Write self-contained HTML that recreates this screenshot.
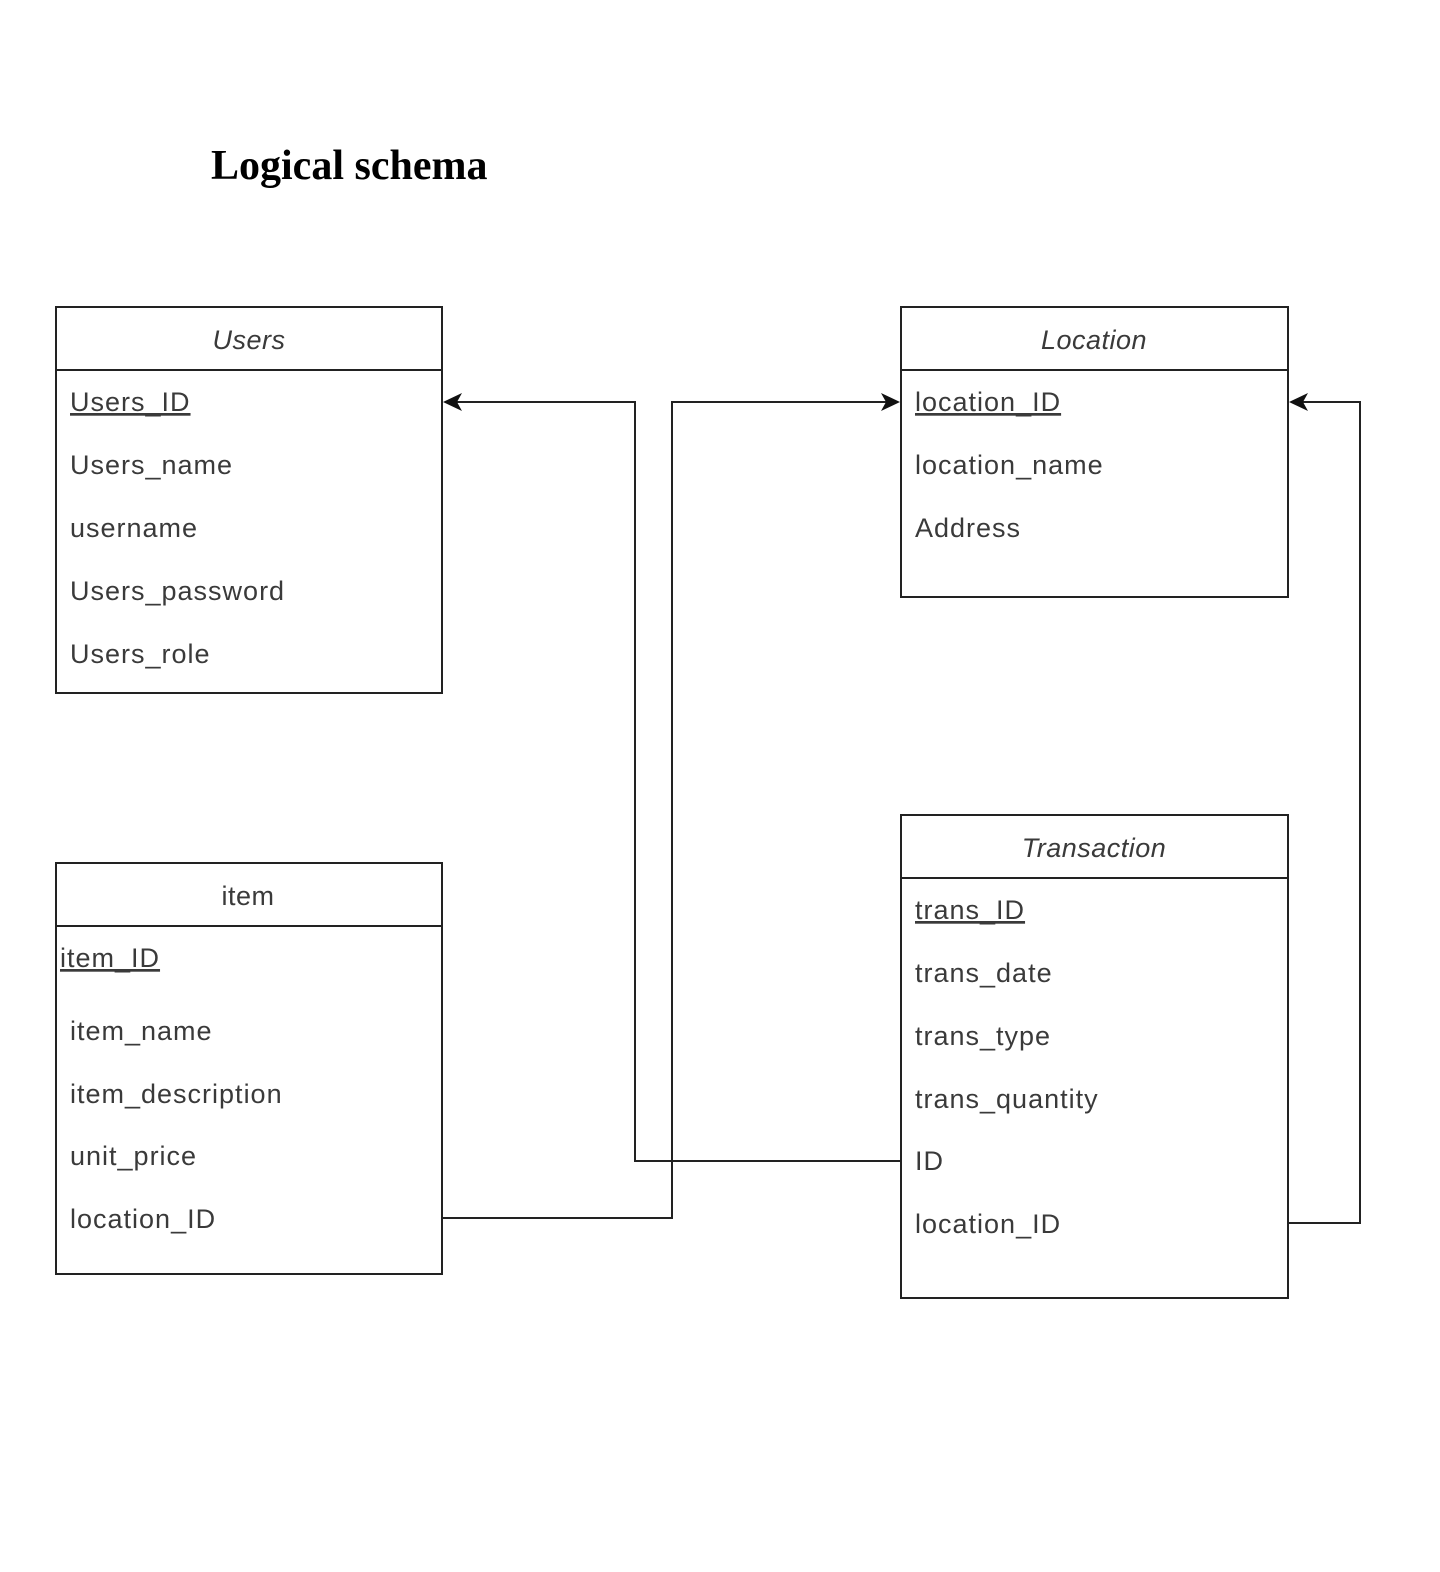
<!DOCTYPE html>
<html><head><meta charset="utf-8"><style>
html,body{margin:0;padding:0;background:#fff;}
svg{display:block;}
.t{font-family:"Liberation Sans",sans-serif;font-size:27px;letter-spacing:1px;fill:#3a3a3a;}
.h{font-family:"Liberation Sans",sans-serif;font-size:27px;letter-spacing:0.5px;fill:#3a3a3a;}
</style></head><body>
<svg width="1440" height="1572" viewBox="0 0 1440 1572" xmlns="http://www.w3.org/2000/svg">
<text x="211" y="179" font-family="Liberation Serif,serif" font-weight="bold" font-size="42" fill="#000">Logical schema</text>
<g fill="none" stroke="#222" stroke-width="2">
<rect x="56" y="307" width="386" height="386"/><line x1="56" y1="370" x2="442" y2="370"/>
<rect x="901" y="307" width="387" height="290"/><line x1="901" y1="370" x2="1288" y2="370"/>
<rect x="56" y="863" width="386" height="411"/><line x1="56" y1="926" x2="442" y2="926"/>
<rect x="901" y="815" width="387" height="483"/><line x1="901" y1="878" x2="1288" y2="878"/>
<polyline points="901,1161 635,1161 635,402 452,402"/>
<polyline points="442,1218 672,1218 672,402 891,402"/>
<polyline points="1288,1223 1360,1223 1360,402 1298,402"/>
</g>
<g fill="#111">
<polygon points="443,402 462,393 457,402 462,411"/>
<polygon points="900,402 881,393 886,402 881,411"/>
<polygon points="1289,402 1308,393 1303,402 1308,411"/>
</g>
<text class="h" x="249" y="349" text-anchor="middle" font-style="italic">Users</text>
<text class="h" x="1094" y="349" text-anchor="middle" font-style="italic">Location</text>
<text class="h" x="248" y="905" text-anchor="middle">item</text>
<text class="h" x="1094" y="857" text-anchor="middle" font-style="italic">Transaction</text>
<text class="t" x="70" y="411" text-decoration="underline">Users_ID</text>
<text class="t" x="70" y="474">Users_name</text>
<text class="t" x="70" y="537">username</text>
<text class="t" x="70" y="600">Users_password</text>
<text class="t" x="70" y="663">Users_role</text>
<text class="t" x="915" y="411" text-decoration="underline">location_ID</text>
<text class="t" x="915" y="474">location_name</text>
<text class="t" x="915" y="537">Address</text>
<text class="t" x="60" y="967" text-decoration="underline">item_ID</text>
<text class="t" x="70" y="1040">item_name</text>
<text class="t" x="70" y="1103">item_description</text>
<text class="t" x="70" y="1165">unit_price</text>
<text class="t" x="70" y="1228">location_ID</text>
<text class="t" x="915" y="919" text-decoration="underline">trans_ID</text>
<text class="t" x="915" y="982">trans_date</text>
<text class="t" x="915" y="1045">trans_type</text>
<text class="t" x="915" y="1108">trans_quantity</text>
<text class="t" x="915" y="1170">ID</text>
<text class="t" x="915" y="1233">location_ID</text>
</svg>
</body></html>
